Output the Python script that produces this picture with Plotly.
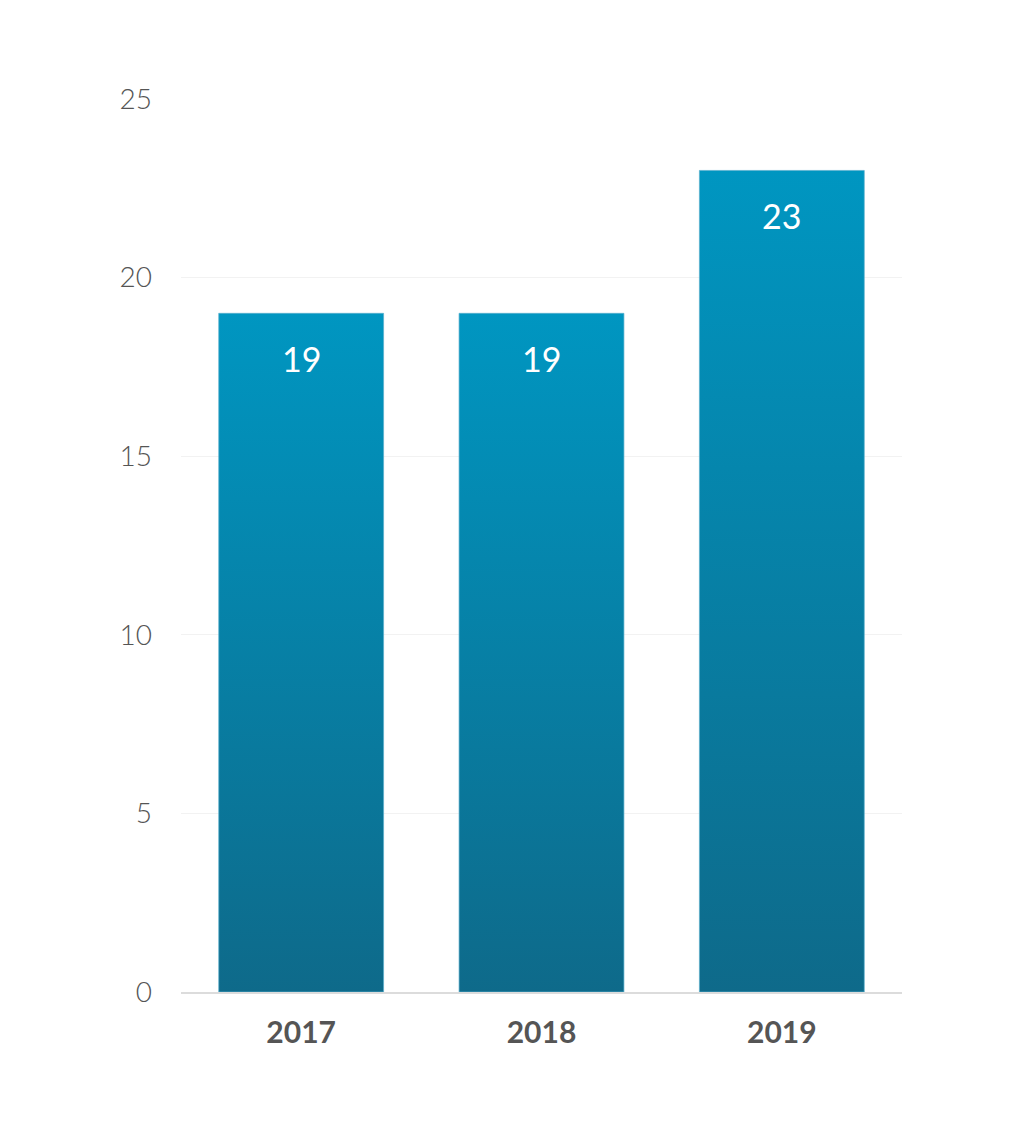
import plotly.graph_objects as go

years = ['2017', '2018', '2019']
counts = [19, 19, 23]
y_ticks = [0, 5, 10, 15, 20, 25]

bar_half = 0.343
top_color = '#0096c1'
bottom_color = '#0e6a8a'

fig = go.Figure()

for i, (yr, v) in enumerate(zip(years, counts)):
    xs = [i - bar_half, i + bar_half, i + bar_half, i - bar_half, i - bar_half]
    ys = [0, 0, v, v, 0]
    fig.add_trace(go.Scatter(
        x=xs, y=ys,
        mode='lines',
        fill='toself',
        fillgradient=dict(type='vertical',
                          colorscale=[[0, bottom_color], [1, top_color]]),
        line=dict(color='rgba(90,175,205,0.7)', width=1),
        hoverinfo='skip',
        showlegend=False,
    ))
    fig.add_annotation(
        x=i, y=v, text=str(v),
        showarrow=False, yanchor='top', yshift=-23,
        font=dict(family='Lato', size=34, color='white'),
    )

# page body adds an 8px offset, so margins are shifted to match
fig.update_layout(
    width=1018, height=1130,
    margin=dict(l=173, r=124, t=91, b=146),
    plot_bgcolor='white', paper_bgcolor='white',
    showlegend=False,
)

fig.update_xaxes(
    range=[-0.5, 2.5],
    tickvals=list(range(len(years))),
    ticktext=years,
    showgrid=False, zeroline=False,
    showline=True, linecolor='#dcdcdc', linewidth=1.5,
    ticks='', ticklabelstandoff=13,
    tickfont=dict(family='Lato', size=30, color='#555555', weight='bold'),
)

fig.update_yaxes(
    range=[0, 25],
    tickvals=y_ticks,
    showgrid=True, gridcolor='#f2f2f2', gridwidth=1,
    zeroline=False, showline=False,
    ticks='', ticklabelstandoff=28,
    tickfont=dict(family='Lato', size=28, color='#555555', weight=300),
)

fig.write_html('out.html')
